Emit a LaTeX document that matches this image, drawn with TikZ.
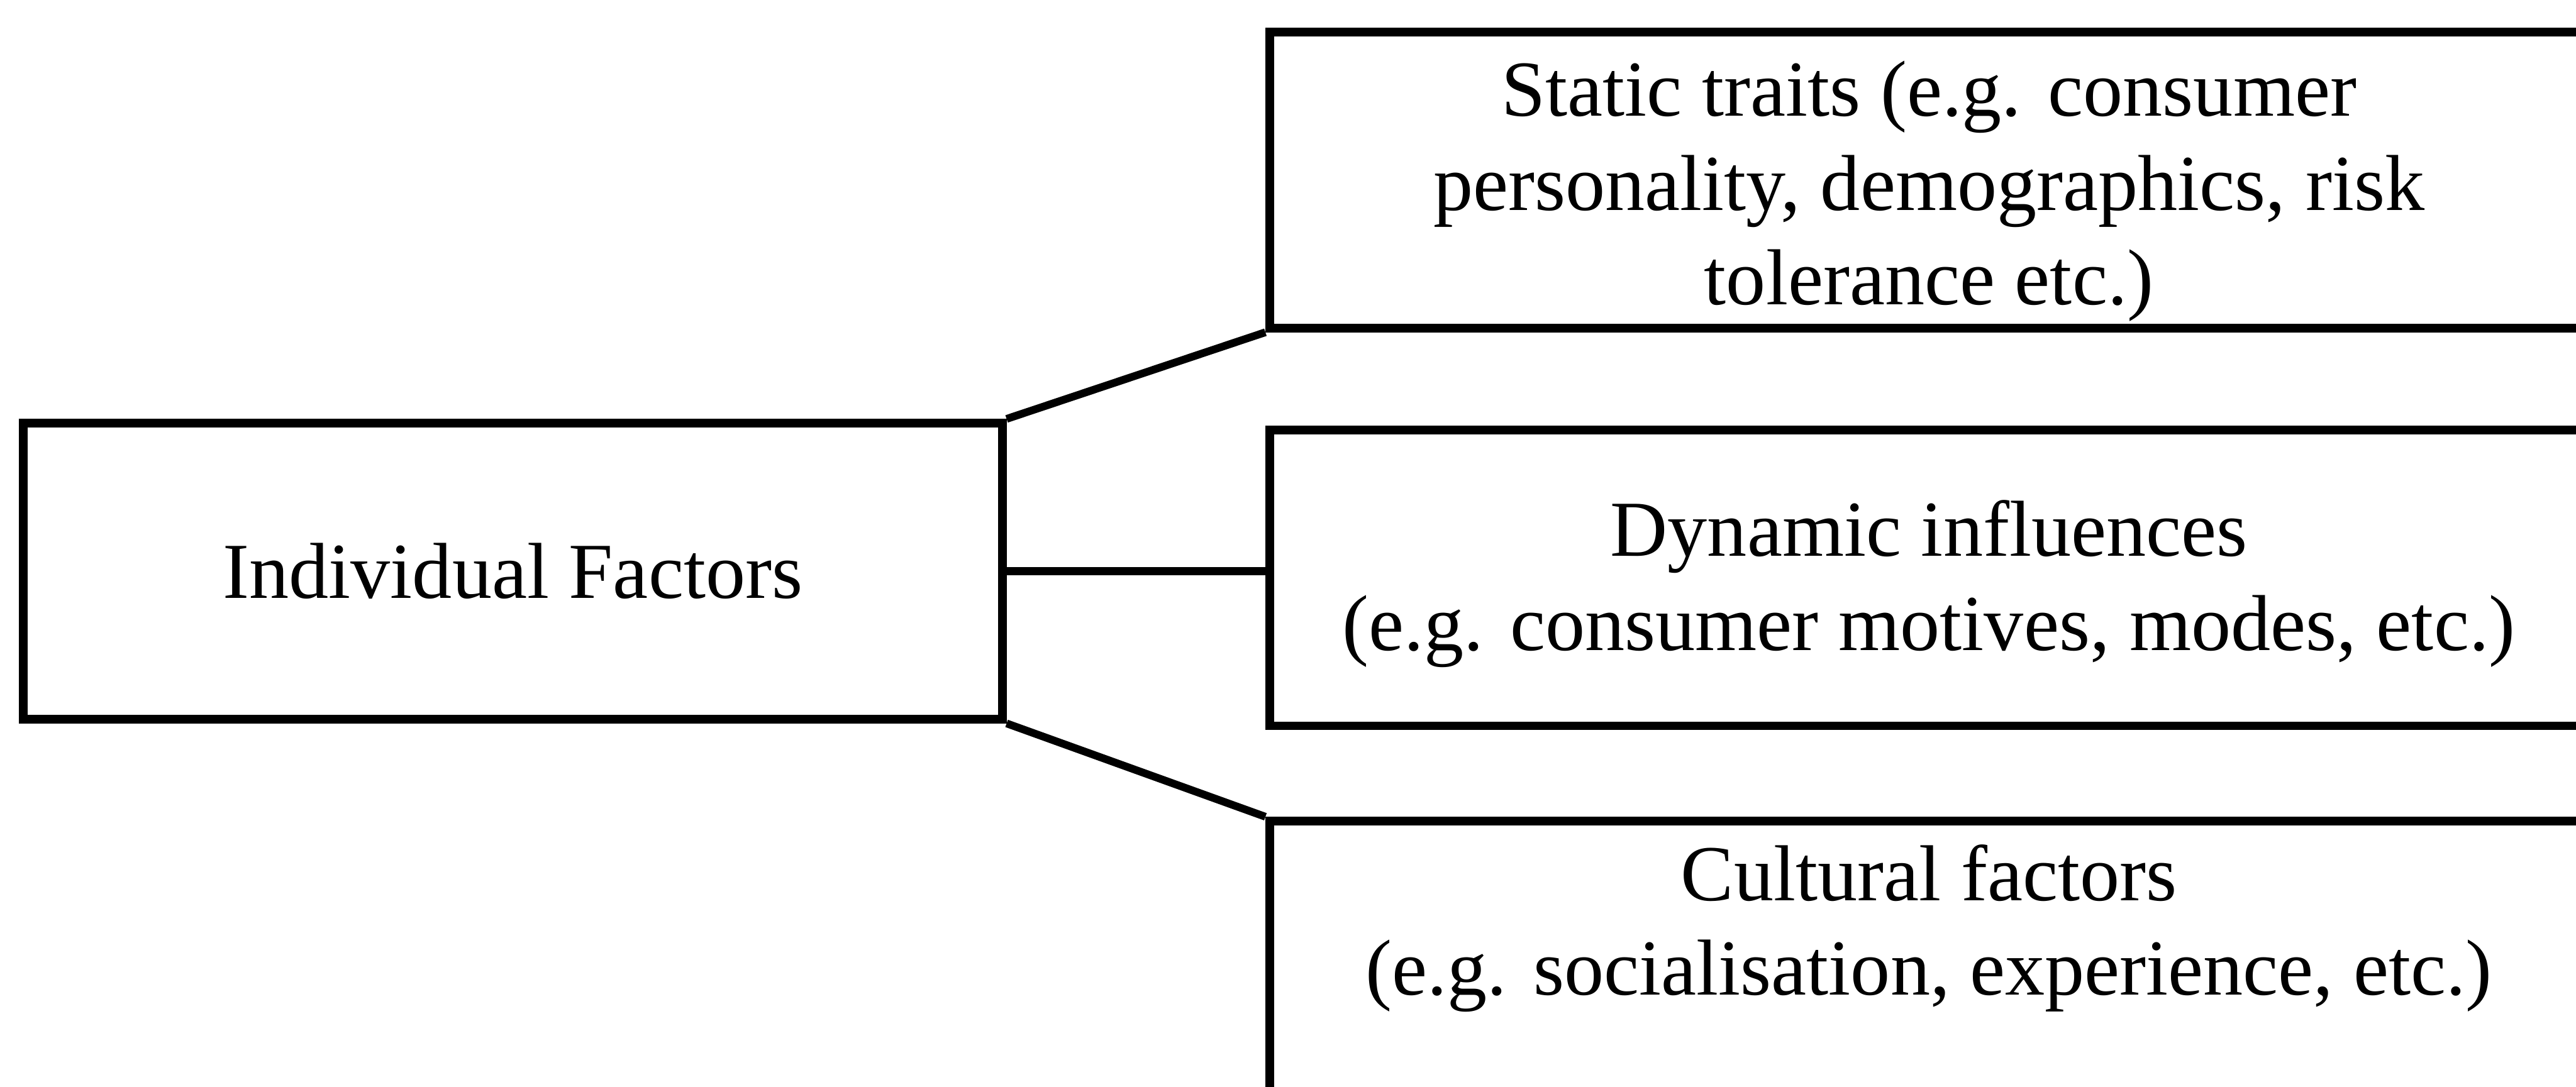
\documentclass[tikz,border=0pt]{standalone}
\usepackage{fontspec}
\setmainfont{Liberation Serif}
\usetikzlibrary{positioning}

\begin{document}
\begin{tikzpicture}[x=1cm, y=1cm,
    factorbox/.style={draw=black, line width=4pt, minimum height=4.85cm, inner sep=0pt},
    boxtext/.style={align=center, font=\fontsize{37}{44}\selectfont},
    link/.style={draw=black, line width=3.6pt}]
    \useasboundingbox (0,0) rectangle (42.2,17.81);
    % left box
    \node[factorbox, boxtext, minimum width=16.04cm] (indiv) at (8.40,8.45) {Individual Factors};
    % right boxes, cut off by the page edge
    \node[factorbox, minimum width=21.6cm] (static) at (31.6,14.86) {};
    \node[boxtext] (statictext) at ([yshift=-0.18cm]static.center)
      {Static traits (e.g. consumer\\ personality, demographics, risk\\ tolerance etc.)};
    \node[factorbox, minimum width=21.6cm] (dynamic) at (31.6,8.34) {};
    \node[boxtext] (dynamictext) at ([yshift=-0.1cm]dynamic.center)
      {Dynamic influences\\ (e.g. consumer motives, modes, etc.)};
    \node[factorbox, minimum width=21.6cm] (cultural) at (31.6,1.93) {};
    \node[boxtext] (culturaltext) at ([yshift=-1.83cm]cultural.north)
      {Cultural factors\\ (e.g. socialisation, experience, etc.)};
    % connectors
    \draw[link] (indiv.north east) -- (static.south west);
    \draw[link] (indiv.east) -- (indiv.east -| dynamic.west);
    \draw[link] (indiv.south east) -- (cultural.north west);
\end{tikzpicture}
\end{document}
